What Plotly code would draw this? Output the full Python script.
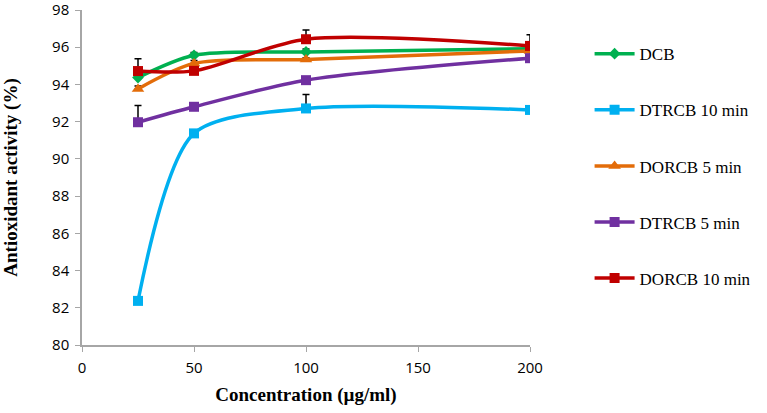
import plotly.graph_objects as go

conc = [25, 50, 100, 200]

series_names = ["DCB", "DTRCB 10 min", "DORCB 5 min", "DTRCB 5 min", "DORCB 10 min"]
dcb = [94.37, 95.57, 95.75, 95.92]
dtrcb10 = [82.37, 91.37, 92.71, 92.63]
dorcb5 = [93.76, 95.13, 95.34, 95.80]
dtrcb5 = [91.97, 92.80, 94.23, 95.41]
dorcb10 = [94.72, 94.73, 96.43, 96.07]

err_dcb = [0.15, 0.15, 0.15, 0.1]
err_dtrcb10 = [0.0, 0.0, 0.75, 0.0]
err_dorcb5 = [0.15, 0.15, 0.1, 0.1]
err_dtrcb5 = [0.9, 0.0, 0.0, 0.0]
err_dorcb10 = [0.66, 0.0, 0.5, 0.6]

colors = ["#00B050", "#00B0F0", "#E36C09", "#7030A0", "#C00000"]
symbols = ["diamond", "square", "triangle-up", "square", "square"]
msizes = [9, 10, 11, 10, 10]

values = [dcb, dtrcb10, dorcb5, dtrcb5, dorcb10]
errors = [err_dcb, err_dtrcb10, err_dorcb5, err_dtrcb5, err_dorcb10]

serif = "Liberation Serif, Times New Roman, serif"

fig = go.Figure()
for i, name in enumerate(series_names):
    fig.add_trace(go.Scatter(
        x=conc, y=values[i], name=name, mode="lines+markers",
        line=dict(color=colors[i], width=3.5, shape="spline", smoothing=0.8),
        marker=dict(symbol=symbols[i], size=msizes[i], color=colors[i]),
        error_y=dict(type="data", symmetric=False, array=errors[i],
                     arrayminus=[0] * len(errors[i]), color="black",
                     thickness=1.5, width=3.5),
        legendgroup=name,
    ))

fig.update_layout(
    width=767, height=413,
    margin=dict(l=82, r=237, t=10, b=68),
    paper_bgcolor="white", plot_bgcolor="white",
    showlegend=True,
    font=dict(family=serif, color="black"),
    legend=dict(x=1.133, xanchor="left", y=0.922, yanchor="top",
                font=dict(family=serif, size=17, color="black"),
                tracegroupgap=31, itemwidth=40, bgcolor="rgba(0,0,0,0)"),
    xaxis=dict(range=[0, 200], tickvals=[0, 50, 100, 150, 200],
               automargin=False, ticklabeloverflow="allow",
               showline=True, linecolor="#A6A6A6", linewidth=1.5,
               ticks="outside", ticklen=5, tickcolor="#A6A6A6",
               ticklabelstandoff=3,
               showgrid=False, zeroline=False,
               tickfont=dict(family="Open Sans", size=15, color="black"),
               title=dict(text="<b>Concentration (µg/ml)</b>",
                          font=dict(family=serif, size=19, color="black"),
                          standoff=12)),
    yaxis=dict(range=[80, 98], tickvals=[80, 82, 84, 86, 88, 90, 92, 94, 96, 98],
               automargin=False, ticklabeloverflow="allow",
               showline=True, linecolor="#A6A6A6", linewidth=1.5,
               ticks="outside", ticklen=5, tickcolor="#A6A6A6",
               ticklabelstandoff=3,
               showgrid=False, zeroline=False,
               tickfont=dict(family="Open Sans", size=15, color="black"),
               title=dict(text="<b>Antioxidant activity (%)</b>",
                          font=dict(family=serif, size=19, color="black"),
                          standoff=31)),
)

fig.write_html("out.html", config={"displayModeBar": False},
               post_script="document.body.style.margin='0';document.body.style.overflow='hidden';")
